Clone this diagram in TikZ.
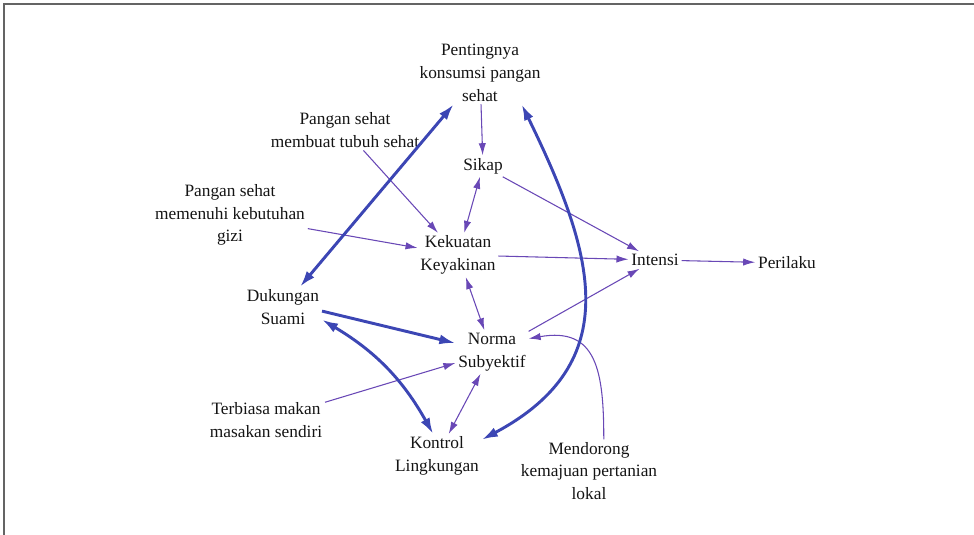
\documentclass[tikz,border=0pt]{standalone}
\usepackage{fontspec}
\setmainfont{Liberation Serif}
\usetikzlibrary{arrows.meta}
\definecolor{thickblue}{RGB}{60,70,180}
\definecolor{thinpurple}{RGB}{105,72,182}
\definecolor{framegray}{RGB}{100,100,100}
\tikzset{
  boldarrow/.style={-{Latex[length=12pt, width=7.5pt]}, line width=2.2pt, thickblue},
  boldboth/.style={{Latex[length=12pt, width=7.5pt]}-{Latex[length=12pt, width=7.5pt]}, line width=2.2pt, thickblue},
  slimarrow/.style={-{Latex[length=9pt, width=5.5pt]}, line width=0.8pt, thinpurple},
  slimboth/.style={{Latex[length=9pt, width=5.5pt]}-{Latex[length=9pt, width=5.5pt]}, line width=0.8pt, thinpurple},
  factor/.style={align=center, inner sep=2pt, text=black!92, font=\fontsize{13}{17}\selectfont}
}
\begin{document}
\begin{tikzpicture}[x=0.75pt, y=0.75pt]
  \useasboundingbox (0,0) rectangle (974,-535);
  \draw[framegray, line width=1.2pt] (4,-535) -- (4,-4) -- (974,-4);
  \node[factor] (pent) at (480,-73) {Pentingnya\\konsumsi pangan\\sehat};
  \node[factor] (sikap) at (483,-166) {Sikap};
  \node[factor] (pmt) at (345,-130) {Pangan sehat\\membuat tubuh sehat};
  \node[factor] (pmk) at (230,-215) {Pangan sehat\\memenuhi kebutuhan\\gizi};
  \node[factor] (kk) at (458,-255) {Kekuatan\\Keyakinan};
  \node[factor] (intensi) at (655,-260) {Intensi};
  \node[factor] (perilaku) at (787,-263) {Perilaku};
  \node[factor] (dukungan) at (283,-307) {Dukungan\\Suami};
  \node[factor] (norma) at (492,-352) {Norma\\Subyektif};
  \node[factor] (terbiasa) at (266,-420) {Terbiasa makan\\masakan sendiri};
  \node[factor] (kontrol) at (437,-456) {Kontrol\\Lingkungan};
  \node[factor] (mendorong) at (589,-471) {Mendorong\\kemajuan pertanian\\lokal};
  \draw[slimarrow] (pent) -- (sikap);
  \draw[slimboth] (sikap) -- (kk);
  \draw[slimarrow] (sikap) -- (intensi);
  \draw[slimarrow] (pmt) -- (kk);
  \draw[slimarrow] (pmk) -- (kk);
  \draw[slimarrow] (kk) -- (intensi);
  \draw[slimarrow] (intensi) -- (perilaku);
  \draw[slimboth] (kk) -- (norma);
  \draw[slimarrow] (norma) -- (intensi);
  \draw[slimarrow] (terbiasa) -- (norma);
  \draw[slimboth] (norma) -- (kontrol);
  \draw[slimarrow] (mendorong.65) to[out=90, in=10, looseness=1.4] (norma.20);
  \draw[boldboth] (dukungan) -- (pent);
  \draw[boldarrow] (dukungan.-6) -- (norma);
  \draw[boldboth] (dukungan.-18) to[bend left=15] (kontrol.100);
  \draw[boldboth] (kontrol.20) to[out=28, in=-64, looseness=1.25] (pent.-37);
\end{tikzpicture}
\end{document}
